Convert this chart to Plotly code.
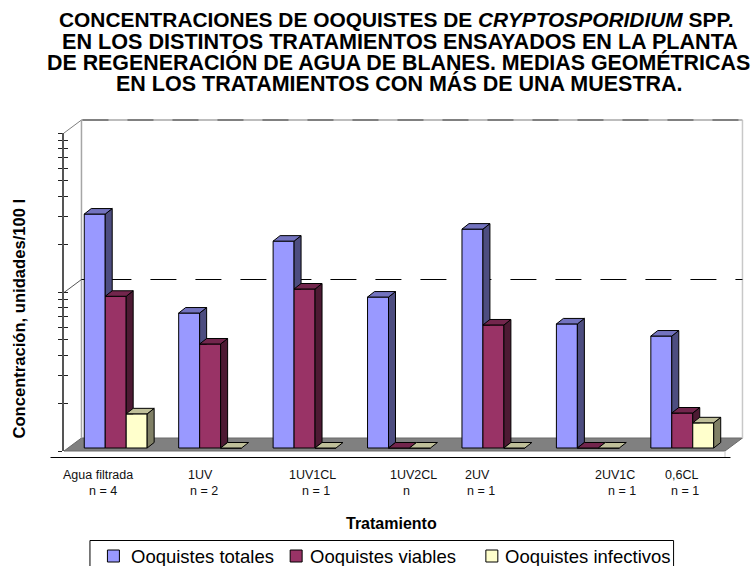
import numpy as np
import plotly.graph_objects as go

# ---------- data ----------
categories = ["Agua filtrada", "1UV", "1UV1CL", "1UV2CL", "2UV", "2UV1C", "0,6CL"]
sample_sizes = ["n = 4", "n = 2", "n = 1", "n", "n = 1", "n = 1", "n = 1"]
series_names = ["Ooquistes totales", "Ooquistes viables", "Ooquistes infectivos"]
totales = [29.6, 7.06, 20.0, 8.9, 23.8, 6.03, 5.06]
viables = [9.0, 4.51, 10.0, 1, 5.94, 1, 1.66]
infectivos = [1.64, 1, 1, 1, 1, 1, 1.44]
series_values = [totales, viables, infectivos]
minor_ticks = [1, 2, 3, 4, 5, 6, 7, 8, 9, 10, 20, 30, 40, 50, 60, 70, 80, 90, 100]
title_lines = [
    "<b>CONCENTRACIONES DE OOQUISTES DE <i>CRYPTOSPORIDIUM</i> SPP.</b>",
    "<b>EN LOS DISTINTOS TRATAMIENTOS ENSAYADOS EN LA PLANTA</b>",
    "<b>DE REGENERACIÓN DE AGUA DE BLANES. MEDIAS GEOMÉTRICAS</b>",
    "<b>EN LOS TRATAMIENTOS CON MÁS DE UNA MUESTRA.</b>",
]

front_colors = ["#9999FF", "#993366", "#FFFFCC"]
side_colors = ["#4D4D80", "#4D1A33", "#808066"]
top_colors = ["#7373BF", "#73264D", "#BFBF99"]

# ---------- geometry ----------
W, H = 753, 566
L, R, T, B = 63.5, 725.5, 133.0, 451.0
slot = (R - L) / 7
decade = (B - T) / 2
off_x, off_y = 4.5, 3.0      # bars stand a little behind the axis plane
depth_x, depth_y = 7.0, 5.5  # bar depth in pixels
wall_x, wall_y = 17.5, 13.0  # chart depth in pixels
dx = depth_x / slot
dy = depth_y / decade
group_share = 63.0 / slot
bar_w = group_share / 3


def px(x):
    return (x - L) / (R - L)


def py(y):
    return (B - y) / (B - T)


def seg(x0, y0, x1, y1, color, width=1, dash=None, layer="below"):
    return dict(type="line", xref="paper", yref="paper", x0=px(x0), y0=py(y0),
                x1=px(x1), y1=py(y1), layer=layer,
                line=dict(color=color, width=width, dash=dash))


fig = go.Figure()

# front faces (on a log axis a bar's top is base + y, hence the subtraction)
for name, vals, col in zip(series_names, series_values, front_colors):
    fig.add_trace(go.Bar(x=list(range(7)), y=np.array(vals, dtype=float) - 1, base=1, name=name,
                         yaxis="y2", marker=dict(color=col, line=dict(color="black", width=1)),
                         showlegend=False))

# side and top faces, derived from the same values
outline = dict(color="black", width=1)
for g in range(7):
    for s in range(3):
        h = np.log10(series_values[s][g])
        x0 = g - group_share / 2 + s * bar_w
        x1 = x0 + bar_w
        nxt = np.log10(series_values[s + 1][g]) if s < 2 else 0.0
        if h > 0:
            low_a = min(nxt, h)
            low_b = max(min(nxt, h), dy) if nxt > 0 else dy
            low_b = min(low_b, h + dy)
            sx = [x1, x1, x1 + dx, x1 + dx, x1]
            sy = [low_a, h, h + dy, low_b, low_a]
            fig.add_trace(go.Scatter(x=sx, y=10 ** np.array(sy), mode="lines", yaxis="y2",
                                     fill="toself", fillcolor=side_colors[s], line=outline,
                                     hoverinfo="skip", showlegend=False))
        tx = [x0, x0 + dx, x1 + dx, x1, x0]
        ty = [h, h + dy, h + dy, h, h]
        fig.add_trace(go.Scatter(x=tx, y=10 ** np.array(ty), mode="lines", yaxis="y2",
                                 fill="toself", fillcolor=top_colors[s], line=outline,
                                 hoverinfo="skip", showlegend=False))

# invisible carriers so both tick axes are drawn
for ax in ("y", "y3"):
    fig.add_trace(go.Scatter(x=[0], y=[1], yaxis=ax, mode="markers", marker=dict(opacity=0),
                             hoverinfo="skip", showlegend=False))

# ---------- furniture ----------
FX, FY = L + wall_x, B - wall_y
TY = T - wall_y
MY = (T + B) / 2 + 0.5
shapes = [
    dict(type="path", xref="paper", yref="paper", layer="below",
         path=f"M{px(L)},{py(B)}L{px(FX)},{py(FY)}L{px(R + wall_x)},{py(FY)}L{px(R)},{py(B)}Z",
         fillcolor="#808080", line=dict(color="#6a6a6a", width=1)),
    seg(FX, TY, FX, FY, "#a6a6a6", 1.5),
    seg(R + wall_x, TY, R + wall_x, FY, "#c8c8c8", 1.5),
    seg(FX, TY, R + wall_x, TY, "#bdbdbd", 2),
    seg(82, TY, R + wall_x, TY, "#808080", 2, "26px,19px"),
    seg(L, T, FX, TY, "#808080", 1),
    seg(L, MY, FX, MY - wall_y, "#555555", 1),
    seg(105, MY - wall_y, R + wall_x, MY - wall_y, "black", 1, "26px,19px"),
    seg(FX, MY - wall_y, 86, MY - wall_y, "black", 1),
    seg(R, B, R, B + 6, "#c8c8c8", 1),
    seg(50, B + 6.5, R + 5.5, B + 6.5, "black", 1),
]

# legend
LEG_T = 540.5
shapes.append(dict(type="rect", xref="paper", yref="paper", x0=px(89.5), x1=px(674),
                   y0=py(LEG_T), y1=py(LEG_T + 40), line=dict(color="black", width=1),
                   fillcolor="white", layer="below"))
swatch_x = [107, 290, 486]
legend_text_x = [131, 310, 505]
for sx, c in zip(swatch_x, front_colors):
    shapes.append(dict(type="rect", xref="paper", yref="paper", x0=px(sx), x1=px(sx + 12),
                       y0=py(550), y1=py(562), fillcolor=c,
                       line=dict(color="black", width=1), layer="below"))

anns = []


def note(text, x, y, size, anchor="left", color="black", angle=0):
    anns.append(dict(text=text, xref="paper", yref="paper", x=px(x), y=py(y), showarrow=False,
                     xanchor=anchor, yanchor="middle", textangle=angle, borderpad=0, borderwidth=0,
                     font=dict(family="Liberation Sans", size=size, color=color)))


for line, cx, ty, fs in zip(title_lines, [396, 400, 399, 400], [20, 41.3, 62.6, 84],
                            [20.9, 21.6, 21.4, 21.5]):
    note(line, cx, ty, fs, anchor="center")

for nm, tx in zip(series_names, legend_text_x):
    note(nm, tx, 556, 18.5)

label_x = [62, 188, 289, 390, 465, 595, 665]
size_x = [89, 190, 302, 403, 467, 608, 671]
for c, lx in zip(categories, label_x):
    note(c, lx, 475, 12.5, color="#111111")
for n, sx in zip(sample_sizes, size_x):
    note(n, sx, 491, 12.5, color="#111111")

note("<b>Tratamiento</b>", 391.5, 523, 16, anchor="center")
note("<b>Concentración, unidades/100 l</b>", 18, 319, 16.6, anchor="center", angle=-90)

y_common = dict(type="log", range=[0, 2], tickmode="array", tickvals=minor_ticks,
                ticktext=[""] * len(minor_ticks), ticklen=4, tickwidth=1, tickcolor="#222222",
                showgrid=False, zeroline=False)

fig.update_layout(
    width=W, height=H,
    margin=dict(l=L, r=W - R, t=T, b=H - B, pad=0, autoexpand=False),
    paper_bgcolor="white", plot_bgcolor="rgba(0,0,0,0)",
    barmode="group", bargap=1 - group_share, bargroupgap=0,
    showlegend=False,
    xaxis=dict(range=[-0.5 - off_x / slot, 6.5 - off_x / slot], showgrid=False, zeroline=False,
               showticklabels=False, ticks=""),
    yaxis=dict(**y_common, ticks="outside", showline=True, linecolor="#555555", linewidth=1.5,
               showticklabels=False),
    yaxis2=dict(type="log", range=[-off_y / decade, 2 - off_y / decade], overlaying="y",
                visible=False),
    yaxis3=dict(**y_common, ticks="inside", overlaying="y", showline=False, showticklabels=False),
    shapes=shapes, annotations=anns,
)

fig.write_html("out.html", config={"displayModeBar": False},
               post_script="document.body.style.margin='0';document.body.style.overflow='hidden';")
